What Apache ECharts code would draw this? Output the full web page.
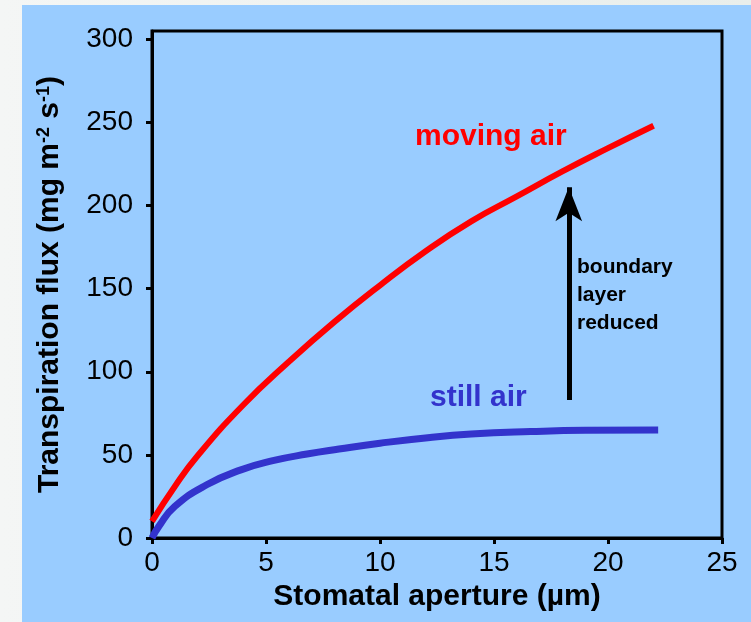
<!DOCTYPE html>
<html>
<head>
<meta charset="utf-8">
<script src="https://cdn.jsdelivr.net/npm/echarts@6/dist/echarts.min.js"></script>
<style>
  html, body { margin: 0; padding: 0; }
  body {
    width: 751px; height: 622px; overflow: hidden; position: relative;
    background: linear-gradient(90deg, #f4f6f5 0%, #e9eeeb 100%);
  }
  .panel { position: absolute; left: 22px; top: 5px; right: 0; bottom: 0; background: #99ccff; }
  #chart { position: absolute; left: 0; top: 0; width: 751px; height: 622px; }
</style>
</head>
<body>
<div class="panel"></div>
<div id="chart"></div>
<script>
// tick labels
const xTicks = [0, 5, 10, 15, 20, 25]
const yTicks = [0, 50, 100, 150, 200, 250, 300]

// moving air (red)
const movingX = [0, 1, 2, 4, 6, 8, 10, 12, 14, 16, 18, 20, 22]
const movingY = [10, 31, 49.5, 80, 106, 130, 152, 172.5, 190.5, 205.5, 220.5, 234.5, 248]

// still air (blue)
const stillX = [0, 0.3, 1, 2.4, 3.9, 5.3, 6.8, 8.2, 10, 12.2, 14, 16.6, 19, 22.2]
const stillY = [0, 7, 19, 32, 41, 46.5, 50.5, 53.5, 57, 60.5, 62.5, 64, 64.8, 65]

// arrow "boundary layer reduced" : x, from y, to y
const arrowX = 18.28
const arrowFrom = 83
const arrowTo = 211

const font = '"Liberation Sans", Arial, Helvetica, sans-serif'

const chart = echarts.init(document.getElementById('chart'))

const zip = (xs, ys) => xs.map((x, i) => [x, ys[i]])

const option = {
  animation: false,
  backgroundColor: 'transparent',
  grid: {
    left: 152,
    right: 29,
    top: 31,
    bottom: 84,
    show: true,
    borderColor: '#000',
    borderWidth: 3,
    backgroundColor: 'transparent'
  },
  xAxis: {
    type: 'value',
    min: 0,
    max: 25,
    interval: 5,
    name: 'Stomatal aperture (µm)',
    nameLocation: 'middle',
    nameGap: 42,
    nameTextStyle: { color: '#000', fontSize: 30, fontWeight: 'bold', fontFamily: font },
    axisLine: { show: true, lineStyle: { color: '#000', width: 3 } },
    axisTick: { show: true, inside: false, length: 6, lineStyle: { color: '#000', width: 3 }, customValues: xTicks },
    axisLabel: { color: '#000', fontSize: 28, fontFamily: font, margin: 11, customValues: xTicks },
    splitLine: { show: false }
  },
  yAxis: {
    type: 'value',
    min: 0,
    max: 305,
    name: 'Transpiration flux (mg m{sup|-2} s{sup|-1})',
    nameLocation: 'middle',
    nameGap: 87,
    nameRotate: 90,
    nameTextStyle: {
      color: '#000', fontSize: 30, fontWeight: 'bold', fontFamily: font,
      rich: {
        sup: { fontSize: 18, fontWeight: 'bold', fontFamily: font, color: '#000', verticalAlign: 'top', lineHeight: 30 }
      }
    },
    axisLine: { show: true, lineStyle: { color: '#000', width: 3 } },
    axisTick: { show: true, inside: false, length: 6, lineStyle: { color: '#000', width: 3 }, customValues: yTicks },
    axisLabel: { color: '#000', fontSize: 28, fontFamily: font, margin: 19, customValues: yTicks },
    splitLine: { show: false }
  },
  series: [
    {
      name: 'moving air',
      type: 'line',
      smooth: true,
      showSymbol: false,
      silent: true,
      lineStyle: { color: '#ff0000', width: 6 },
      data: zip(movingX, movingY),
      markLine: {
        silent: true,
        symbol: ['none', 'arrow'],
        symbolSize: [20, 34],
        label: { show: false },
        lineStyle: { color: '#000', width: 5, type: 'solid' },
        data: [[{ coord: [arrowX, arrowFrom] }, { coord: [arrowX, arrowTo] }]]
      }
    },
    {
      name: 'still air',
      type: 'line',
      smooth: true,
      showSymbol: false,
      silent: true,
      lineStyle: { color: '#3333cc', width: 7 },
      data: zip(stillX, stillY)
    }
  ],
  graphic: [
    {
      type: 'text', left: 415, top: 122, silent: true,
      style: { text: 'moving air', fill: '#ff0000', font: 'bold 30px ' + font }
    },
    {
      type: 'text', left: 430, top: 383, silent: true,
      style: { text: 'still air', fill: '#3333cc', font: 'bold 30px ' + font }
    },
    {
      type: 'text', left: 577, top: 253, silent: true,
      style: { text: 'boundary\nlayer\nreduced', fill: '#000', font: 'bold 21px ' + font, lineHeight: 28 }
    }
  ]
}

chart.setOption(option)
</script>
</body>
</html>
